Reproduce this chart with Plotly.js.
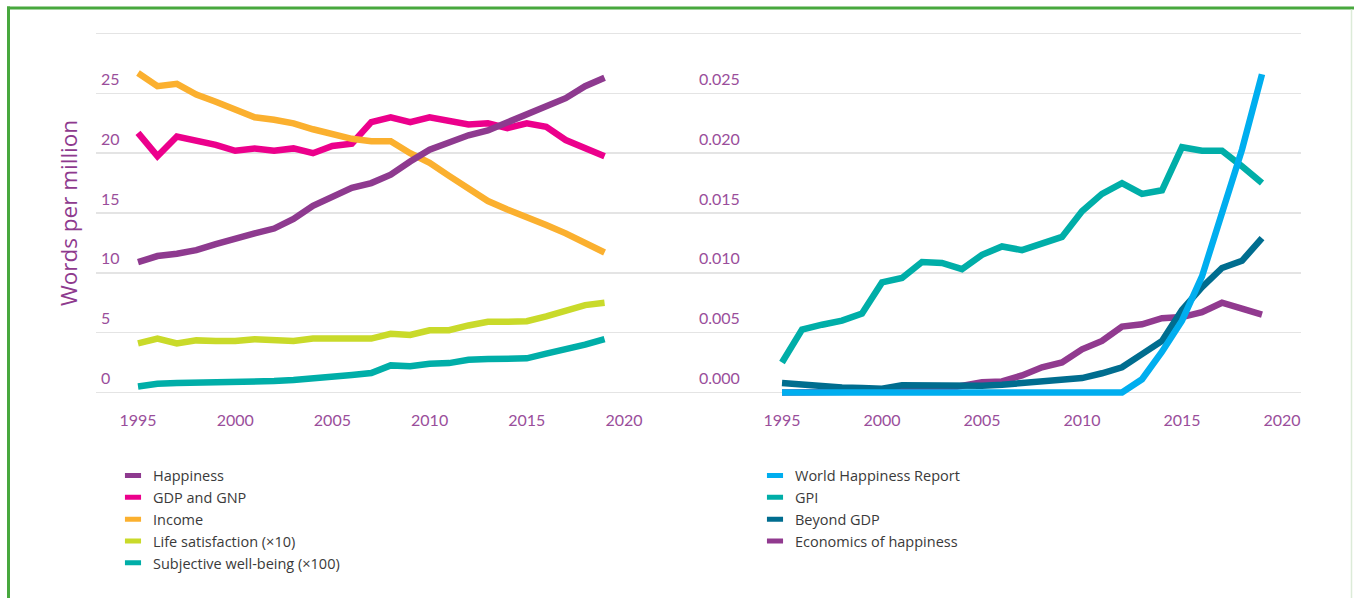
<!DOCTYPE html>
<html>
<head>
<meta charset="utf-8">
<script src="https://cdn.plot.ly/plotly-3.0.1.min.js"></script>
<style>html,body{margin:0;padding:0;background:#fff;}#chart{width:1354px;height:598px;}</style>
</head>
<body>
<div id="chart"></div>
<script>
// ---- data ----
const years = [1995,1996,1997,1998,1999,2000,2001,2002,2003,2004,2005,2006,2007,2008,2009,2010,2011,2012,2013,2014,2015,2016,2017,2018,2019];

const happiness = [10.9,11.4,11.6,11.9,12.4,12.9,13.3,13.7,14.5,15.6,16.4,17.1,17.5,18.2,19.3,20.3,20.9,21.5,21.9,22.6,23.2,23.9,24.6,25.6,26.3];
const gdpGnp = [21.7,19.75,21.4,21.1,20.7,20.2,20.4,20.2,20.4,20.0,20.6,20.8,22.6,23.0,22.6,23.0,22.7,22.4,22.5,22.1,22.5,22.2,21.1,20.4,19.75];
const income = [26.7,25.6,25.8,24.9,24.3,23.6,23.0,22.8,22.5,22.0,21.6,21.2,21.0,21.0,20.0,19.2,18.1,17.1,16.0,15.3,14.7,14.0,13.3,12.5,11.7];
const lifeSatisfaction = [4.1,4.5,4.1,4.35,4.3,4.3,4.45,4.4,4.3,4.5,4.5,4.6,4.5,4.9,4.8,5.2,5.2,5.6,5.9,5.9,5.95,6.35,6.8,7.3,7.5];
const subjectiveWellBeing = [0.5,0.73,0.78,0.8,0.78,0.86,0.92,0.95,1.03,1.14,1.34,1.45,1.62,2.26,2.18,2.4,2.45,2.73,2.79,2.79,2.85,3.24,3.57,4.0,4.46];

const worldHappinessReport = [0,0,0,0,0,0,0,0,0,0,0,0,0,0,0,0,0,0,0.0011,0.0034,0.006,0.0097,0.015,0.0203,0.0266];
const gpi = [0.0025,0.00525,0.00566,0.006,0.0066,0.0092,0.00957,0.0109,0.01083,0.0103,0.0115,0.0122,0.0119,0.0125,0.013,0.01515,0.0166,0.0175,0.0166,0.0169,0.0205,0.0202,0.0202,0.0189,0.0175];
const beyondGdp = [0.00078,0.00064,0.0005,0.00042,0.00036,0.0003,0.00059,0.00059,0.0005,0.0005,0.00056,0.00064,0.00078,0.00092,0.001,0.0012,0.0016,0.0021,0.0032,0.0043,0.0069,0.0088,0.0104,0.011,0.0129];
const economicsOfHappiness = [0,0,0,0,0.00002,0.00005,0.0001,0.00012,0.00025,0.00056,0.00086,0.00092,0.00142,0.0021,0.0025,0.0036,0.0043,0.0055,0.0057,0.0062,0.0063,0.0067,0.0075,0.007,0.0065];

const leftTickVals = [0,5,10,15,20,25,30];
const leftTickText = ['0','5','10','15','20','25',''];
const rightTickVals = [0,0.005,0.01,0.015,0.02,0.025,0.03];
const rightTickText = ['0.000','0.005','0.010','0.015','0.020','0.025',''];
const xTickVals = [1995,2000,2005,2010,2015,2020];

const names = {
  happiness: 'Happiness', gdp: 'GDP and GNP', income: 'Income',
  life: 'Life satisfaction (×10)', swb: 'Subjective well-being (×100)',
  whr: 'World Happiness Report', gpi: 'GPI', beyond: 'Beyond GDP', econ: 'Economics of happiness'
};
const colors = {
  happiness: '#8e3a8f', gdp: '#ec008c', income: '#fbb02f', life: '#c9da2a', swb: '#00aea8',
  whr: '#00aeef', gpi: '#00aea8', beyond: '#006d8f', econ: '#913a8f'
};

// ---- layout geometry (pixels) ----
const M = {l: 96, r: 53, t: 30.4, b: 202.4};
const PW = 1354 - M.l - M.r, PH = 598 - M.t - M.b;
const px = x => (x - M.l) / PW;
const py = y => (598 - M.b - y) / PH;
const split = px(694);

function line(x, y, key, xa, ya) {
  return {type: 'scatter', mode: 'lines', x: x, y: y, name: names[key], xaxis: xa, yaxis: ya,
    line: {color: colors[key], width: 6.5}, showlegend: false, hoverinfo: 'x+y+name'};
}
function legendItem(key, xa, ya, lg) {
  return {type: 'scatter', mode: 'markers', x: [null], y: [null], name: names[key], xaxis: xa, yaxis: ya,
    legend: lg, hoverinfo: 'skip',
    marker: {symbol: 'line-ew', size: 11.5, color: colors[key], line: {color: colors[key], width: 7}}};
}

const traces = [
  line(years, subjectiveWellBeing, 'swb', 'x', 'y'),
  line(years, lifeSatisfaction, 'life', 'x', 'y'),
  line(years, gdpGnp, 'gdp', 'x', 'y'),
  line(years, income, 'income', 'x', 'y'),
  line(years, happiness, 'happiness', 'x', 'y'),
  line(years, economicsOfHappiness, 'econ', 'x2', 'y2'),
  line(years, beyondGdp, 'beyond', 'x2', 'y2'),
  line(years, gpi, 'gpi', 'x2', 'y2'),
  line(years, worldHappinessReport, 'whr', 'x2', 'y2'),
  legendItem('happiness', 'x', 'y', 'legend'),
  legendItem('gdp', 'x', 'y', 'legend'),
  legendItem('income', 'x', 'y', 'legend'),
  legendItem('life', 'x', 'y', 'legend'),
  legendItem('swb', 'x', 'y', 'legend'),
  legendItem('whr', 'x2', 'y2', 'legend2'),
  legendItem('gpi', 'x2', 'y2', 'legend2'),
  legendItem('beyond', 'x2', 'y2', 'legend2'),
  legendItem('econ', 'x2', 'y2', 'legend2')
];

const tickFont = {family: 'Lato, sans-serif', size: 16, color: '#9a4e9b'};
const gridColor = '#e4e4e4';

function xAxis(domain, range, anchor) {
  return {domain: domain, range: range, anchor: anchor, tickvals: xTickVals, showgrid: false,
    zeroline: false, showline: false, ticks: 'outside', ticklen: 0, ticklabelstandoff: 10,
    tickfont: tickFont, fixedrange: true};
}
function yAxis(range, vals, text, anchor, title) {
  const a = {domain: [0, 1], range: range, anchor: anchor, tickvals: vals, ticktext: text,
    showgrid: true, gridcolor: gridColor, gridwidth: 1.6, zeroline: false, showline: false,
    ticks: '', ticklabelposition: 'inside', ticklabelshift: -14, ticklabelstandoff: 2,
    tickfont: tickFont, fixedrange: true};
  if (title) a.title = {text: title, font: {family: '"Open Sans", sans-serif', size: 22.5, color: '#8e3a8e'}, standoff: 17};
  return a;
}

const legendFont = {family: '"Open Sans", sans-serif', size: 14.5, color: '#3a3a3a'};
const borderGreen = '#48a83e';

const layout = {
  width: 1354, height: 598,
  margin: {l: M.l, r: M.r, t: M.t, b: M.b, pad: 0},
  paper_bgcolor: '#ffffff', plot_bgcolor: 'rgba(0,0,0,0)',
  showlegend: true,
  xaxis: xAxis([0, split], [1995 - 42 / 19.44, 1995 + (694 - 138) / 19.44], 'y'),
  yaxis: yAxis([-0.3, 30.3], leftTickVals, leftTickText, 'x', 'Words per million'),
  xaxis2: xAxis([split, 1], [1995 - (782 - 694) / 20.0, 1995 + (1301 - 782) / 20.0], 'y2'),
  yaxis2: yAxis([-0.0003, 0.0303], rightTickVals, rightTickText, 'x2', null),
  legend: {x: px(113), y: py(459), xanchor: 'left', yanchor: 'top', font: legendFont,
    bgcolor: 'rgba(0,0,0,0)', borderwidth: 0, traceorder: 'normal', tracegroupgap: 0},
  legend2: {x: px(755), y: py(459), xanchor: 'left', yanchor: 'top', font: legendFont,
    bgcolor: 'rgba(0,0,0,0)', borderwidth: 0, traceorder: 'normal', tracegroupgap: 0},
  shapes: [
    {type: 'line', xref: 'paper', yref: 'paper', x0: px(7), x1: px(1354), y0: py(8.5), y1: py(8.5),
      line: {color: borderGreen, width: 3}},
    {type: 'line', xref: 'paper', yref: 'paper', x0: px(8.5), x1: px(8.5), y0: py(7), y1: py(600),
      line: {color: borderGreen, width: 3}},
    {type: 'line', xref: 'paper', yref: 'paper', x0: px(1351.5), x1: px(1351.5), y0: py(10), y1: py(600),
      line: {color: '#dcebd8', width: 1.5}}
  ]
};

Plotly.newPlot('chart', traces, layout, {displayModeBar: false, staticPlot: true});
</script>
</body>
</html>
